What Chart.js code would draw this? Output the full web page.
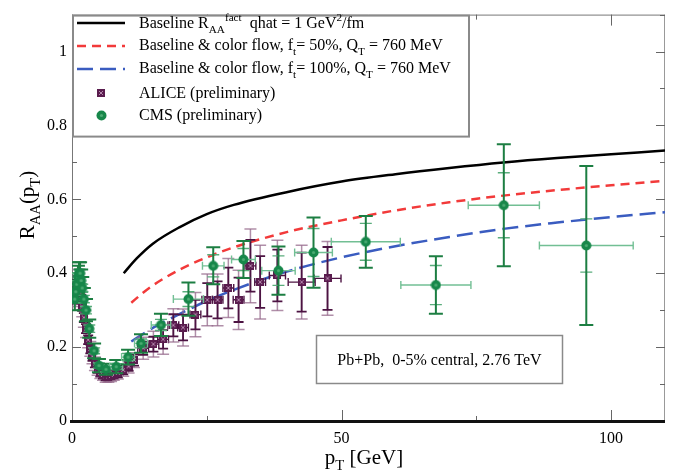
<!DOCTYPE html>
<html>
<head>
<meta charset="utf-8">
<script src="https://cdn.jsdelivr.net/npm/chart.js@4.4.1/dist/chart.umd.min.js"></script>
<style>
  html, body { margin: 0; padding: 0; background: #fff; }
  #c { display: block; }
</style>
</head>
<body>
<canvas id="c" width="683" height="472"></canvas>
<script>
// model curves
const blackX = [9.6, 12, 15, 20, 25, 30, 40, 50, 60, 70, 80, 90, 100, 110];
const blackY = [0.40, 0.44, 0.48, 0.525, 0.56, 0.585, 0.62, 0.648, 0.668, 0.685, 0.70, 0.712, 0.722, 0.732];
const redX = [11, 13, 15, 20, 25, 30, 40, 50, 60, 70, 80, 90, 100, 110];
const redY = [0.32, 0.345, 0.367, 0.41, 0.443, 0.47, 0.512, 0.543, 0.57, 0.592, 0.61, 0.625, 0.638, 0.65];
const blueX = [11, 15, 20, 25, 30, 40, 50, 60, 70, 80, 90, 100, 110];
const blueY = [0.215, 0.252, 0.29, 0.325, 0.355, 0.405, 0.443, 0.473, 0.498, 0.52, 0.537, 0.552, 0.565];

// ALICE (preliminary)
const aliceX = [0.55, 0.65, 0.75, 0.85, 0.95, 1.1, 1.3, 1.5, 1.7, 1.9, 2.2, 2.6, 3.0, 3.4, 3.8, 4.25, 4.75, 5.25, 5.75, 6.25, 6.75, 7.25, 7.75, 8.5, 9.5, 10.5, 11.5,
  13.2, 15.1, 16.9, 18.8, 20.6, 22.9, 25.1, 27, 29, 30.9, 33.1, 34.9, 38.1, 42.6, 47.4];
const aliceY = [0.33, 0.34, 0.35, 0.36, 0.37, 0.38, 0.38, 0.36, 0.33, 0.31, 0.28, 0.25, 0.22, 0.195, 0.175, 0.155, 0.14, 0.13, 0.125, 0.12, 0.12, 0.122, 0.125, 0.13, 0.138, 0.148, 0.165,
  0.197, 0.208, 0.221, 0.259, 0.253, 0.288, 0.328, 0.328, 0.36, 0.328, 0.42, 0.376, 0.394, 0.376, 0.386];
const aliceXErr = [0.05, 0.05, 0.05, 0.05, 0.05, 0.1, 0.1, 0.1, 0.1, 0.1, 0.15, 0.2, 0.2, 0.2, 0.2, 0.25, 0.25, 0.25, 0.25, 0.25, 0.25, 0.25, 0.25, 0.5, 0.5, 0.5, 0.5,
  1, 1, 1, 1, 1, 1, 1, 1, 1, 1, 1, 1, 1.5, 2.5, 2.5];
const aliceStat = [0.012, 0.012, 0.012, 0.012, 0.012, 0.012, 0.012, 0.012, 0.012, 0.012, 0.012, 0.012, 0.012, 0.012, 0.012, 0.01, 0.01, 0.01, 0.01, 0.01, 0.01, 0.01, 0.01, 0.012, 0.012, 0.012, 0.015,
  0.018, 0.02, 0.025, 0.03, 0.035, 0.04, 0.045, 0.05, 0.055, 0.06, 0.07, 0.07, 0.07, 0.08, 0.085];
const aliceSys = [0.03, 0.03, 0.03, 0.03, 0.03, 0.03, 0.03, 0.03, 0.03, 0.028, 0.026, 0.024, 0.022, 0.02, 0.02, 0.018, 0.016, 0.015, 0.015, 0.015, 0.015, 0.015, 0.015, 0.016, 0.017, 0.018, 0.02,
  0.03, 0.035, 0.04, 0.045, 0.05, 0.06, 0.07, 0.07, 0.08, 0.08, 0.1, 0.1, 0.095, 0.1, 0.1];

// CMS (preliminary)
const cmsX = [0.5, 0.7, 0.9, 1.1, 1.3, 1.5, 1.7, 1.9, 2.2, 2.6, 3.2, 4.1, 5.0, 6.3, 8.2, 10.4, 12.8, 16.5, 21.6, 26.2, 31.8, 38.3, 44.8, 54.5, 67.5, 80.1, 95.4];
const cmsY = [0.33, 0.35, 0.37, 0.39, 0.40, 0.40, 0.38, 0.36, 0.33, 0.30, 0.25, 0.19, 0.15, 0.14, 0.147, 0.173, 0.21, 0.26, 0.33, 0.42, 0.437, 0.407, 0.456, 0.485, 0.368, 0.584, 0.475];
const cmsXErr = [0.1, 0.1, 0.1, 0.1, 0.1, 0.1, 0.1, 0.1, 0.15, 0.2, 0.4, 0.5, 0.5, 0.7, 1.2, 1.2, 1.2, 1.8, 2.8, 2, 2.2, 3.1, 3.5, 6.4, 6.5, 6.6, 8.7];
const cmsStat = [0.01, 0.01, 0.01, 0.01, 0.01, 0.01, 0.01, 0.01, 0.01, 0.01, 0.01, 0.008, 0.007, 0.007, 0.008, 0.01, 0.012, 0.015, 0.02, 0.03, 0.03, 0.04, 0.065, 0.05, 0.053, 0.088, 0.072];
const cmsTot = [0.03, 0.03, 0.03, 0.03, 0.03, 0.03, 0.03, 0.03, 0.03, 0.03, 0.025, 0.02, 0.018, 0.015, 0.018, 0.02, 0.025, 0.03, 0.045, 0.05, 0.05, 0.065, 0.095, 0.07, 0.078, 0.165, 0.215];

const yTickValues = [0, 0.1, 0.2, 0.3, 0.4, 0.5, 0.6, 0.7, 0.8, 0.9, 1.0, 1.1];
const xTickValues = [25, 50, 75, 100];

const SERIF = "'Liberation Serif', 'DejaVu Serif', serif";
const pts = (xs, ys) => xs.map((x, i) => ({ x, y: ys[i] }));

function makeSquare() {
  const c = document.createElement('canvas');
  c.width = 8; c.height = 8;
  const g = c.getContext('2d');
  g.fillStyle = '#5a1c4e';
  g.fillRect(0, 0, 8, 8);
  g.strokeStyle = 'rgba(200,160,195,0.8)';
  g.lineWidth = 1;
  g.beginPath();
  g.moveTo(2, 2); g.lineTo(6, 6);
  g.moveTo(6, 2); g.lineTo(2, 6);
  g.stroke();
  return c;
}
function makeCircle() {
  const c = document.createElement('canvas');
  c.width = 11; c.height = 11;
  const g = c.getContext('2d');
  g.fillStyle = '#17874a';
  g.beginPath(); g.arc(5.5, 5.5, 5, 0, Math.PI * 2); g.fill();
  g.fillStyle = 'rgba(90,180,125,0.8)';
  g.beginPath(); g.arc(5.5, 5.5, 1.6, 0, Math.PI * 2); g.fill();
  return c;
}
const squareImg = makeSquare();
const circleImg = makeCircle();

// rich text: segments [text, mode] mode: '' | 'sub' | 'sup'
function richWidth(ctx, segs, size) {
  let w = 0;
  segs.forEach(([t, m]) => {
    ctx.font = (m ? size * 0.7 : size) + 'px ' + SERIF;
    w += ctx.measureText(t).width;
  });
  return w;
}
function drawRich(ctx, segs, x, y, size, align) {
  ctx.save();
  ctx.textBaseline = 'alphabetic';
  ctx.textAlign = 'left';
  let cx = x;
  if (align === 'center') cx = x - richWidth(ctx, segs, size) / 2;
  segs.forEach(([t, m]) => {
    const s = m ? size * 0.7 : size;
    ctx.font = s + 'px ' + SERIF;
    const dy = m === 'sub' ? size * 0.3 : m === 'sup' ? -size * 0.42 : 0;
    ctx.fillText(t, cx, y + dy);
    cx += ctx.measureText(t).width;
  });
  ctx.restore();
}

function line(ctx, x1, y1, x2, y2) {
  ctx.beginPath(); ctx.moveTo(x1, y1); ctx.lineTo(x2, y2); ctx.stroke();
}

const errorBars = {
  id: 'errorBars',
  beforeDatasetDraw(chart, args) {
    const ctx = chart.ctx, xs = chart.scales.x, ys = chart.scales.y, a = chart.chartArea;
    ctx.save();
    ctx.beginPath(); ctx.rect(a.left, a.top, a.right - a.left, a.bottom - a.top); ctx.clip();
    if (args.index === 1) {
      aliceX.forEach((xv, i) => {
        const px = xs.getPixelForValue(xv), py = ys.getPixelForValue(aliceY[i]);
        const x1 = xs.getPixelForValue(xv - aliceXErr[i]), x2 = xs.getPixelForValue(xv + aliceXErr[i]);
        const s1 = ys.getPixelForValue(aliceY[i] + aliceSys[i]), s2 = ys.getPixelForValue(aliceY[i] - aliceSys[i]);
        const t1 = ys.getPixelForValue(aliceY[i] + aliceStat[i]), t2 = ys.getPixelForValue(aliceY[i] - aliceStat[i]);
        ctx.strokeStyle = 'rgba(150,105,140,0.75)';
        ctx.lineWidth = 1.5;
        line(ctx, px, s1, px, s2);
        line(ctx, px - 6, s1, px + 6, s1);
        line(ctx, px - 6, s2, px + 6, s2);
        ctx.strokeStyle = '#4c1342';
        ctx.lineWidth = 1.8;
        line(ctx, px, t1, px, t2);
        line(ctx, px - 5, t1, px + 5, t1);
        line(ctx, px - 5, t2, px + 5, t2);
        ctx.lineWidth = 1.4;
        line(ctx, x1, py, x2, py);
        if (x2 - x1 > 8) {
          line(ctx, x1, py - 4, x1, py + 4);
          line(ctx, x2, py - 4, x2, py + 4);
        }
      });
    }
    if (args.index === 0) {
      cmsX.forEach((xv, i) => {
        const px = xs.getPixelForValue(xv), py = ys.getPixelForValue(cmsY[i]);
        const x1 = xs.getPixelForValue(xv - cmsXErr[i]), x2 = xs.getPixelForValue(xv + cmsXErr[i]);
        const s1 = ys.getPixelForValue(cmsY[i] + cmsTot[i]), s2 = ys.getPixelForValue(cmsY[i] - cmsTot[i]);
        const t1 = ys.getPixelForValue(cmsY[i] + cmsStat[i]), t2 = ys.getPixelForValue(cmsY[i] - cmsStat[i]);
        ctx.strokeStyle = '#72bf94';
        ctx.lineWidth = 1.4;
        line(ctx, x1, py, x2, py);
        if (x2 - x1 > 8) {
          line(ctx, x1, py - 4, x1, py + 4);
          line(ctx, x2, py - 4, x2, py + 4);
        }
        ctx.strokeStyle = '#5aad7c';
        ctx.lineWidth = 1.4;
        line(ctx, px - 6, t1, px + 6, t1);
        line(ctx, px - 6, t2, px + 6, t2);
        ctx.strokeStyle = '#1c7e42';
        ctx.lineWidth = 2;
        line(ctx, px, s1, px, s2);
        line(ctx, px - 7, s1, px + 7, s1);
        line(ctx, px - 7, s2, px + 7, s2);
      });
    }
    ctx.restore();
  }
};

const frame = {
  id: 'frame',
  beforeDatasetsDraw(chart) {
    const ctx = chart.ctx, xs = chart.scales.x, ys = chart.scales.y, a = chart.chartArea;
    ctx.save();
    ctx.strokeStyle = '#777';
    ctx.lineWidth = 1;
    line(ctx, a.left + 0.5, a.top, a.left + 0.5, a.bottom);
    line(ctx, a.left, a.top + 0.5, a.right, a.top + 0.5);
    ctx.strokeStyle = '#999';
    line(ctx, a.right - 0.5, a.top, a.right - 0.5, a.bottom);
    ctx.strokeStyle = '#666';
    yTickValues.forEach((v, i) => {
      const y = Math.round(ys.getPixelForValue(v)) + 0.5;
      const len = i % 2 === 0 ? 9 : 5;
      line(ctx, a.left, y, a.left + len, y);
      line(ctx, a.right, y, a.right - len, y);
    });
    xTickValues.forEach(v => {
      const x = Math.round(xs.getPixelForValue(v)) + 0.5;
      const len = v % 50 === 0 ? 11 : 5;
      line(ctx, x, a.bottom, x, a.bottom - len);
      line(ctx, x, a.top, x, a.top + len);
    });
    ctx.strokeStyle = '#111';
    ctx.lineWidth = 3;
    line(ctx, a.left - 2, a.bottom + 0.5, a.right, a.bottom + 0.5);
    ctx.restore();
  },
  afterDraw(chart) {
    const ctx = chart.ctx, a = chart.chartArea;
    ctx.save();
    ctx.fillStyle = '#000';
    // axis titles
    drawRich(ctx, [['p', ''], ['T', 'sub'], [' [GeV]', '']], 364, 464, 21, 'center');
    ctx.translate(34, 205);
    ctx.rotate(-Math.PI / 2);
    drawRich(ctx, [['R', ''], ['AA', 'sub'], ['(p', ''], ['T', 'sub'], [')', '']], 0, 0, 21, 'center');
    ctx.restore();

    // legend box
    ctx.save();
    ctx.fillStyle = '#fff';
    ctx.fillRect(a.left + 1, a.top + 1, 396, 121);
    ctx.strokeStyle = '#8a8a8a';
    ctx.lineWidth = 2;
    ctx.strokeRect(a.left + 1, a.top + 1, 396, 121);
    const lx1 = 77, lx2 = 125, tx = 139;
    ctx.lineWidth = 2.5;
    ctx.strokeStyle = '#000';
    line(ctx, lx1, 23, lx2, 23);
    ctx.setLineDash([9, 6]);
    ctx.strokeStyle = '#f23a3a';
    line(ctx, lx1, 46, lx2, 46);
    ctx.setLineDash([16, 7]);
    ctx.strokeStyle = '#3a5cc0';
    line(ctx, lx1, 69, lx2, 69);
    ctx.setLineDash([]);
    ctx.drawImage(squareImg, 97, 89);
    ctx.drawImage(circleImg, 96, 110);
    ctx.fillStyle = '#000';
    drawRich(ctx, [['Baseline R', ''], ['AA', 'sub'], ['fact', 'sup'], ['  qhat = 1 GeV', ''], ['2', 'sup'], ['/fm', '']], tx, 28, 16);
    drawRich(ctx, [['Baseline & color flow, f', ''], ['t', 'sub'], ['= 50%, Q', ''], ['T', 'sub'], [' = 760 MeV', '']], tx, 50, 16);
    drawRich(ctx, [['Baseline & color flow, f', ''], ['t', 'sub'], ['= 100%, Q', ''], ['T', 'sub'], [' = 760 MeV', '']], tx, 73, 16);
    drawRich(ctx, [['ALICE (preliminary)', '']], tx, 98, 16);
    drawRich(ctx, [['CMS (preliminary)', '']], tx, 120, 16);

    // info box
    ctx.fillStyle = '#fff';
    ctx.fillRect(316.5, 335.5, 246, 48);
    ctx.strokeStyle = '#8a8a8a';
    ctx.lineWidth = 1.5;
    ctx.strokeRect(316.5, 335.5, 246, 48);
    ctx.fillStyle = '#000';
    drawRich(ctx, [['Pb+Pb,  0-5% central, 2.76 TeV', '']], 439.5, 365, 16, 'center');
    ctx.restore();
  }
};

new Chart(document.getElementById('c'), {
  data: {
    datasets: [
      { type: 'scatter', label: 'CMS (preliminary)', data: pts(cmsX, cmsY), pointStyle: circleImg, pointRadius: 5 },
      { type: 'scatter', label: 'ALICE (preliminary)', data: pts(aliceX, aliceY), pointStyle: squareImg, pointRadius: 4 },
      { type: 'line', label: 'Baseline & color flow, ft= 100%', data: pts(blueX, blueY), borderColor: '#3a5cc0', borderWidth: 2.5,
        borderDash: [16, 7], pointRadius: 0, cubicInterpolationMode: 'monotone', fill: false },
      { type: 'line', label: 'Baseline & color flow, ft= 50%', data: pts(redX, redY), borderColor: '#f23a3a', borderWidth: 2.5,
        borderDash: [9, 6], pointRadius: 0, cubicInterpolationMode: 'monotone', fill: false },
      { type: 'line', label: 'Baseline RAA fact', data: pts(blackX, blackY), borderColor: '#000', borderWidth: 2.5,
        pointRadius: 0, cubicInterpolationMode: 'monotone', fill: false }
    ]
  },
  options: {
    responsive: false,
    animation: false,
    layout: { padding: { top: 6, right: 18, left: 0, bottom: 0 } },
    plugins: { legend: { display: false }, tooltip: { enabled: false } },
    scales: {
      x: {
        type: 'linear', min: 0, max: 110,
        afterFit: s => { s.height = 51; },
        grid: { display: false, drawTicks: false },
        border: { display: false },
        ticks: {
          stepSize: 50, padding: 8, color: '#000',
          font: { family: SERIF, size: 16 },
          callback: v => (v % 50 === 0 ? String(v) : '')
        }
      },
      y: {
        type: 'linear', min: 0, max: 1.1,
        afterFit: s => { s.width = 72; },
        grid: { display: false, drawTicks: false },
        border: { display: false },
        ticks: {
          stepSize: 0.1, padding: 5, color: '#000',
          font: { family: SERIF, size: 16 },
          callback: v => {
            const k = Math.round(v * 10);
            if (k % 2 !== 0 || k > 10) return '';
            return k === 0 ? '0' : k === 10 ? '1' : (k / 10).toFixed(1);
          }
        }
      }
    }
  },
  plugins: [errorBars, frame]
});
</script>
</body>
</html>
